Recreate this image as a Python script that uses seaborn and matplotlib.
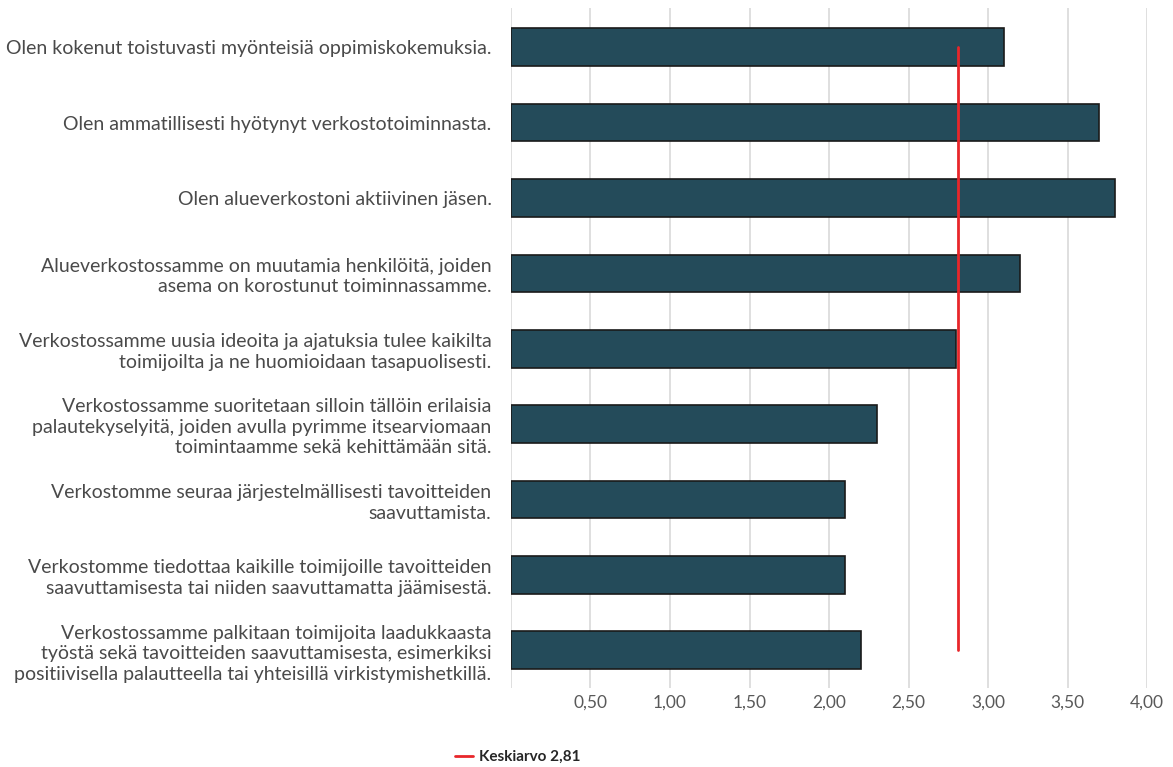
import matplotlib
matplotlib.use("Agg")
import matplotlib.pyplot as plt
import seaborn as sns
import pandas as pd
from matplotlib.lines import Line2D

# ============================
# Data
# ============================

statements = [
    "Olen kokenut toistuvasti myönteisiä oppimiskokemuksia.",
    "Olen ammatillisesti hyötynyt verkostotoiminnasta.",
    "Olen alueverkostoni aktiivinen jäsen.",
    "Alueverkostossamme on muutamia henkilöitä, joiden\nasema on korostunut toiminnassamme.",
    "Verkostossamme uusia ideoita ja ajatuksia tulee kaikilta\ntoimijoilta ja ne huomioidaan tasapuolisesti.",
    "Verkostossamme suoritetaan silloin tällöin erilaisia\npalautekyselyitä, joiden avulla pyrimme itsearviomaan\ntoimintaamme sekä kehittämään sitä.",
    "Verkostomme seuraa järjestelmällisesti tavoitteiden\nsaavuttamista.",
    "Verkostomme tiedottaa kaikille toimijoille tavoitteiden\nsaavuttamisesta tai niiden saavuttamatta jäämisestä.",
    "Verkostossamme palkitaan toimijoita laadukkaasta\ntyöstä sekä tavoitteiden saavuttamisesta, esimerkiksi\npositiivisella palautteella tai yhteisillä virkistymishetkillä.",
]
scores = [3.1, 3.7, 3.8, 3.2, 2.8, 2.3, 2.1, 2.1, 2.2]
mean_score = 2.81
xticks = [0.5, 1.0, 1.5, 2.0, 2.5, 3.0, 3.5, 4.0]

df = pd.DataFrame({"Väite": statements, "Keskiarvo": scores})

# ============================
# Plot
# ============================

sns.set_style("white")
plt.rcParams["font.family"] = ["Lato", "DejaVu Sans"]

fig = plt.figure(figsize=(11.73, 7.67), dpi=100)
ax = fig.add_axes([0.4356, 0.103, 0.978 - 0.4356, 0.9896 - 0.103])

sns.barplot(data=df, x="Keskiarvo", y="Väite", orient="h", color="#244b5a",
            saturation=1, width=0.5, edgecolor="#1a1a1a", linewidth=1.2, ax=ax)

# average line from first to last bar
ax.plot([mean_score, mean_score], [0, len(statements) - 1], color="#e8262a", lw=2, zorder=5)

ax.set_xlim(0, 4.0)
ax.set_ylim(8.5, -0.52)
ax.set_xticks(xticks)
ax.set_xticklabels([f"{t:.2f}".replace(".", ",") for t in xticks], color="#595959", fontsize=12.5)
ax.set_axisbelow(True)
ax.grid(axis="x", color="#d9d9d9", lw=1.2)
ax.axvline(0, color="#d9d9d9", lw=1.2, zorder=0)
ax.tick_params(axis="both", length=0)
ax.tick_params(axis="x", pad=5)
ax.tick_params(axis="y", pad=14)
for lbl in ax.get_yticklabels():
    lbl.set_fontsize(14)
    lbl.set_color("#4a4a4a")
    lbl.set_multialignment("right")
    lbl.set_linespacing(1.25)
ax.set_xlabel("")
ax.set_ylabel("")
for s in ax.spines.values():
    s.set_visible(False)

handle = Line2D([], [], color="#e8262a", lw=2)
fig.legend([handle], ["Keskiarvo 2,81"], loc="center", bbox_to_anchor=(518 / 1173, 1 - 757 / 767),
           frameon=False, handlelength=1.2, handletextpad=0.4,
           prop={"weight": "bold", "size": 11})

fig.savefig("out.png", dpi=100)
